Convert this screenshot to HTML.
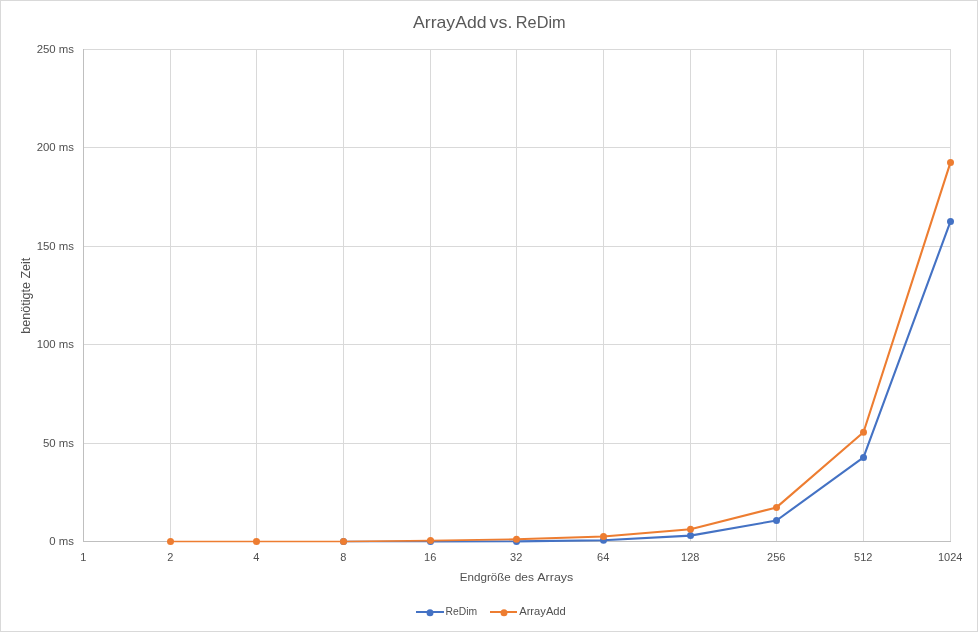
<!DOCTYPE html>
<html lang="de">
<head>
<meta charset="utf-8">
<title>ArrayAdd vs. ReDim</title>
<style>
html,body{margin:0;padding:0;background:#fff;}
body{width:978px;height:632px;overflow:hidden;}
svg{display:block;}
text{font-family:"Liberation Sans",sans-serif;fill:#595959;}
.ax{font-size:11px;fill:#505050;}
.g{stroke:#d9d9d9;stroke-width:1;shape-rendering:crispEdges;}
.a{stroke:#bfbfbf;stroke-width:1;shape-rendering:crispEdges;}
</style>
</head>
<body>
<svg width="978" height="632" viewBox="0 0 978 632">
<rect x="0" y="0" width="978" height="632" fill="#ffffff"/>
<rect x="0.5" y="0.5" width="977" height="631" fill="none" stroke="#d9d9d9" stroke-width="1" shape-rendering="crispEdges"/>
<line class="g" x1="84" y1="49.5" x2="951" y2="49.5"/>
<line class="g" x1="84" y1="147.5" x2="951" y2="147.5"/>
<line class="g" x1="84" y1="246.5" x2="951" y2="246.5"/>
<line class="g" x1="84" y1="344.5" x2="951" y2="344.5"/>
<line class="g" x1="84" y1="443.5" x2="951" y2="443.5"/>
<line class="g" x1="170.5" y1="49" x2="170.5" y2="541"/>
<line class="g" x1="256.5" y1="49" x2="256.5" y2="541"/>
<line class="g" x1="343.5" y1="49" x2="343.5" y2="541"/>
<line class="g" x1="430.5" y1="49" x2="430.5" y2="541"/>
<line class="g" x1="516.5" y1="49" x2="516.5" y2="541"/>
<line class="g" x1="603.5" y1="49" x2="603.5" y2="541"/>
<line class="g" x1="690.5" y1="49" x2="690.5" y2="541"/>
<line class="g" x1="776.5" y1="49" x2="776.5" y2="541"/>
<line class="g" x1="863.5" y1="49" x2="863.5" y2="541"/>
<line class="g" x1="950.5" y1="49" x2="950.5" y2="541"/>
<line class="a" x1="83.5" y1="49" x2="83.5" y2="542"/>
<line class="a" x1="83" y1="541.5" x2="951" y2="541.5"/>
<text x="413" y="27.6" font-size="17px" textLength="73.6" lengthAdjust="spacingAndGlyphs">ArrayAdd</text>
<text x="489.6" y="27.6" font-size="17px" textLength="22.8" lengthAdjust="spacingAndGlyphs">vs.</text>
<text x="515.8" y="27.6" font-size="17px" textLength="49.8" lengthAdjust="spacingAndGlyphs">ReDim</text>
<text class="ax" style="font-size:11.4px" x="74" y="52.8" text-anchor="end">250 ms</text>
<text class="ax" style="font-size:11.4px" x="74" y="150.8" text-anchor="end">200 ms</text>
<text class="ax" style="font-size:11.4px" x="74" y="249.8" text-anchor="end">150 ms</text>
<text class="ax" style="font-size:11.4px" x="74" y="347.8" text-anchor="end">100 ms</text>
<text class="ax" style="font-size:11.4px" x="74" y="446.8" text-anchor="end">50 ms</text>
<text class="ax" style="font-size:11.4px" x="74" y="544.8" text-anchor="end">0 ms</text>
<text class="ax" x="83.2" y="561" text-anchor="middle">1</text>
<text class="ax" x="170.2" y="561" text-anchor="middle">2</text>
<text class="ax" x="256.2" y="561" text-anchor="middle">4</text>
<text class="ax" x="343.2" y="561" text-anchor="middle">8</text>
<text class="ax" x="430.2" y="561" text-anchor="middle">16</text>
<text class="ax" x="516.2" y="561" text-anchor="middle">32</text>
<text class="ax" x="603.2" y="561" text-anchor="middle">64</text>
<text class="ax" x="690.2" y="561" text-anchor="middle">128</text>
<text class="ax" x="776.2" y="561" text-anchor="middle">256</text>
<text class="ax" x="863.2" y="561" text-anchor="middle">512</text>
<text class="ax" x="950.2" y="561" text-anchor="middle">1024</text>
<text class="ax" style="font-size:12px" transform="translate(30.4,333.7) rotate(-90)" textLength="76" lengthAdjust="spacingAndGlyphs">benötigte Zeit</text>
<text class="ax" x="459.8" y="580.6" textLength="51" lengthAdjust="spacingAndGlyphs">Endgröße</text>
<text class="ax" x="514.7" y="580.6" textLength="19.3" lengthAdjust="spacingAndGlyphs">des</text>
<text class="ax" x="537.3" y="580.6" textLength="36" lengthAdjust="spacingAndGlyphs">Arrays</text>
<polyline points="343.5,541.5 430.5,541.5" fill="none" stroke="#4472c4" stroke-width="1.7" stroke-linejoin="round" stroke-linecap="round"/>
<polyline points="430.5,541.5 516.5,541.4" fill="none" stroke="#4472c4" stroke-width="1.9" stroke-linejoin="round" stroke-linecap="round"/>
<polyline points="516.5,541.4 603.5,540.3 690.5,535.6 776.5,520.5 863.5,457.4 950.5,221.4" fill="none" stroke="#4472c4" stroke-width="2.1" stroke-linejoin="round" stroke-linecap="round"/>
<circle cx="343.5" cy="541.5" r="3.5" fill="#4472c4"/>
<circle cx="430.5" cy="541.5" r="3.5" fill="#4472c4"/>
<circle cx="516.5" cy="541.4" r="3.5" fill="#4472c4"/>
<circle cx="603.5" cy="540.3" r="3.5" fill="#4472c4"/>
<circle cx="690.5" cy="535.6" r="3.5" fill="#4472c4"/>
<circle cx="776.5" cy="520.5" r="3.5" fill="#4472c4"/>
<circle cx="863.5" cy="457.4" r="3.5" fill="#4472c4"/>
<circle cx="950.5" cy="221.4" r="3.5" fill="#4472c4"/>
<polyline points="170.5,541.5 256.5,541.5 343.5,541.5" fill="none" stroke="#ed7d31" stroke-width="1.5" stroke-linejoin="round" stroke-linecap="round"/>
<polyline points="343.5,541.5 430.5,540.6" fill="none" stroke="#ed7d31" stroke-width="1.7" stroke-linejoin="round" stroke-linecap="round"/>
<polyline points="430.5,540.6 516.5,539.3" fill="none" stroke="#ed7d31" stroke-width="1.9" stroke-linejoin="round" stroke-linecap="round"/>
<polyline points="516.5,539.3 603.5,536.5 690.5,529.3 776.5,507.4 863.5,432.3 950.5,162.4" fill="none" stroke="#ed7d31" stroke-width="2.1" stroke-linejoin="round" stroke-linecap="round"/>
<circle cx="170.5" cy="541.5" r="3.5" fill="#ed7d31"/>
<circle cx="256.5" cy="541.5" r="3.5" fill="#ed7d31"/>
<circle cx="343.5" cy="541.5" r="3.5" fill="#ed7d31"/>
<circle cx="430.5" cy="540.6" r="3.5" fill="#ed7d31"/>
<circle cx="516.5" cy="539.3" r="3.5" fill="#ed7d31"/>
<circle cx="603.5" cy="536.5" r="3.5" fill="#ed7d31"/>
<circle cx="690.5" cy="529.3" r="3.5" fill="#ed7d31"/>
<circle cx="776.5" cy="507.4" r="3.5" fill="#ed7d31"/>
<circle cx="863.5" cy="432.3" r="3.5" fill="#ed7d31"/>
<circle cx="950.5" cy="162.4" r="3.5" fill="#ed7d31"/>
<line x1="416" y1="612" x2="444" y2="612" stroke="#4472c4" stroke-width="2"/>
<circle cx="430" cy="612.7" r="3.5" fill="#4472c4"/>
<text class="ax" x="445.6" y="614.6" textLength="31.6" lengthAdjust="spacingAndGlyphs">ReDim</text>
<line x1="490" y1="612" x2="517" y2="612" stroke="#ed7d31" stroke-width="2"/>
<circle cx="504" cy="612.7" r="3.5" fill="#ed7d31"/>
<text class="ax" x="519.2" y="614.6" textLength="46.6" lengthAdjust="spacingAndGlyphs">ArrayAdd</text>
</svg>
</body>
</html>
